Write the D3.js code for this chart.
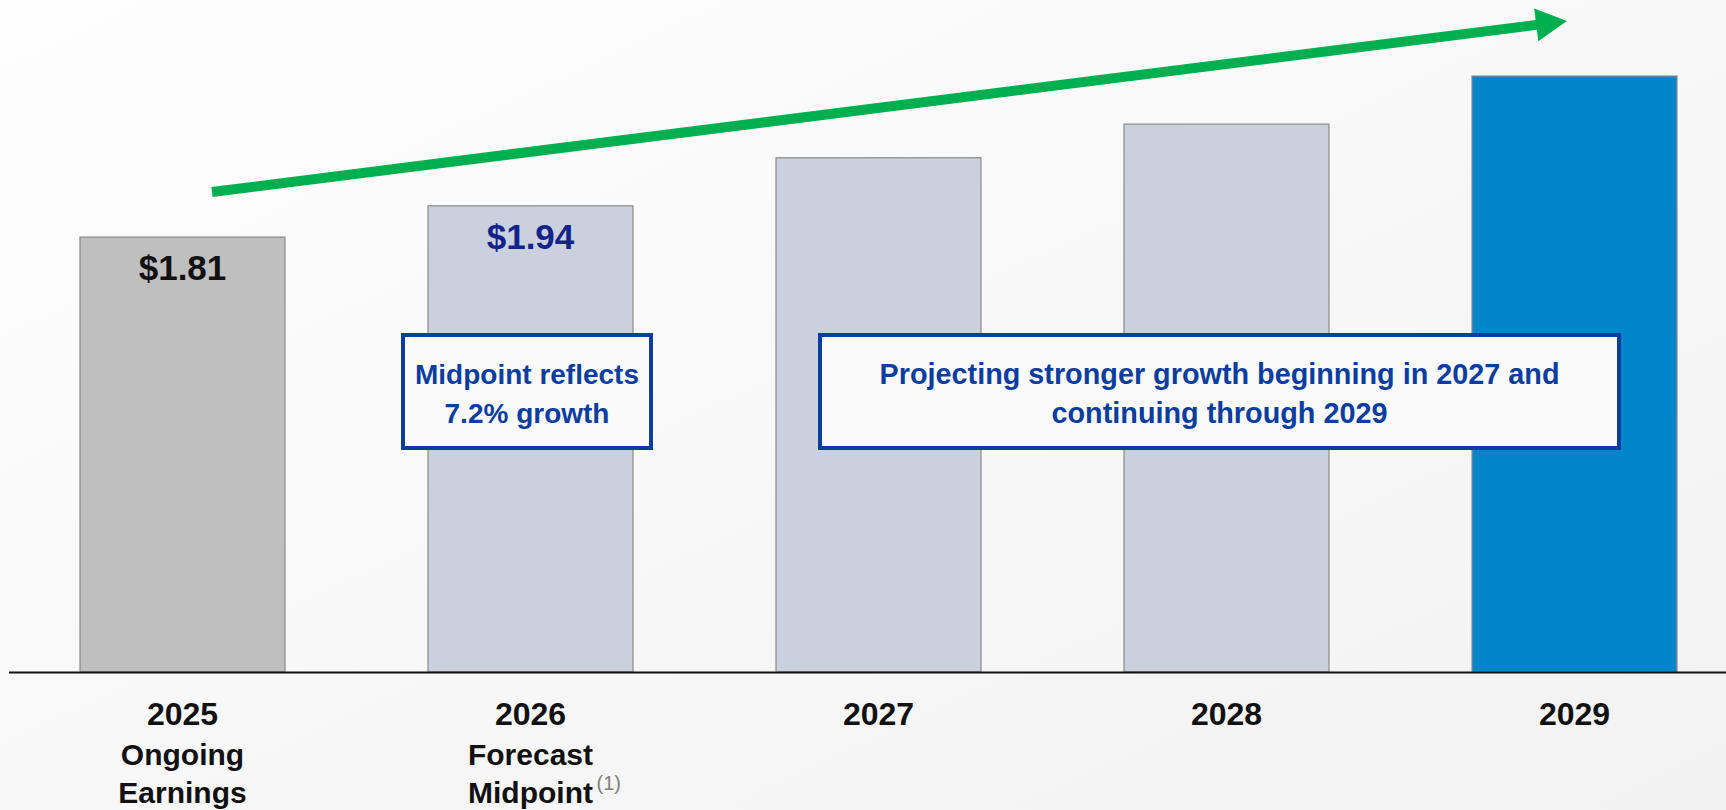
<!DOCTYPE html>
<html><head><meta charset="utf-8">
<script src="https://cdn.jsdelivr.net/npm/d3@7"></script>
<style>html,body{margin:0;padding:0;overflow:hidden;background:#fff}svg{display:block}</style>
</head><body>
<svg id="c" width="1726" height="810"></svg>
<script>
// ---- data ----
const categories = ["2025", "2026", "2027", "2028", "2029"];
const subLabels = [["Ongoing", "Earnings"], ["Forecast", "Midpoint"], [], [], []];
const footnotes = ["", "(1)", "", "", ""];
const values = [1.81, 1.94, 2.14, 2.28, 2.48];
const valueLabels = ["$1.81", "$1.94", "", "", ""];
const callout1 = ["Midpoint reflects", "7.2% growth"];
const callout2 = ["Projecting stronger growth beginning in 2027 and", "continuing through 2029"];

// ---- drawing ----
const W = 1726, H = 810;
const svg = d3.select("#c");
const FONT = "'Liberation Sans', Arial, 'DejaVu Sans', sans-serif";

const defs = svg.append("defs");
const grad = defs.append("linearGradient").attr("id", "bg")
  .attr("x1", "0").attr("y1", "0").attr("x2", "1").attr("y2", "1");
grad.append("stop").attr("offset", "0%").attr("stop-color", "#fefefe");
grad.append("stop").attr("offset", "100%").attr("stop-color", "#f2f2f2");
svg.append("rect").attr("width", W).attr("height", H).attr("fill", "url(#bg)");

const baseY = 672;
const pxPerUnit = 240.3;
const y = d3.scaleLinear().domain([0, 2.75]).range([baseY, baseY - 2.75 * pxPerUnit]);
const x = d3.scaleBand().domain(categories).range([8.5, 1748.5])
  .paddingInner(0.411).paddingOuter(0.2055);

const fills = ["#bfbfbf", "#cad1de", "#cad1de", "#cad1de", "#0085ca"];
const data = categories.map((c, i) => ({ c, v: values[i], lab: valueLabels[i], sub: subLabels[i], fn: footnotes[i], i }));

svg.append("g").selectAll("rect").data(data).join("rect")
  .attr("x", d => x(d.c)).attr("y", d => y(d.v))
  .attr("width", x.bandwidth()).attr("height", d => y(0) - y(d.v))
  .attr("fill", d => fills[d.i]).attr("stroke", "#8a8a8a").attr("stroke-width", 1.2);

// value labels
svg.append("g").selectAll("text").data(data.filter(d => d.lab)).join("text")
  .attr("x", d => x(d.c) + x.bandwidth() / 2).attr("y", d => y(d.v) + 43)
  .attr("text-anchor", "middle").attr("font-family", FONT).attr("font-weight", "bold")
  .attr("font-size", 35).attr("fill", d => d.i === 0 ? "#111111" : "#14238a")
  .text(d => d.lab);

// axis
const axisG = svg.append("g").attr("transform", `translate(0,${baseY})`)
  .call(d3.axisBottom(x).tickSize(0).tickSizeOuter(0).tickFormat(""));
axisG.select(".domain").attr("stroke", "#111").attr("stroke-width", 2);

// category labels
const lab = svg.append("g").selectAll("text").data(data).join("text")
  .attr("x", d => x(d.c) + x.bandwidth() / 2).attr("y", 725)
  .attr("text-anchor", "middle").attr("font-family", FONT).attr("font-weight", "bold")
  .attr("font-size", 30).attr("fill", "#111");
lab.append("tspan").attr("font-size", 32).text(d => d.c);
lab.each(function (d) {
  const t = d3.select(this);
  d.sub.forEach((s, k) => {
    t.append("tspan").attr("x", x(d.c) + x.bandwidth() / 2).attr("dy", k === 0 ? 40 : 38).text(s);
  });
});
// footnote superscripts
svg.append("g").selectAll("text").data(data.filter(d => d.fn)).join("text")
  .attr("x", d => x(d.c) + x.bandwidth() / 2 + 66).attr("y", 790)
  .attr("font-family", FONT).attr("font-size", 20).attr("fill", "#808080")
  .text(d => d.fn);

// growth arrow
const tip = [1567, 21], start = [212, 192];
const dx = tip[0] - start[0], dy = tip[1] - start[1], L = Math.hypot(dx, dy);
const ux = dx / L, uy = dy / L, px = -uy, py = ux;
const headLen = 31, headHalf = 16.5;
const base = [tip[0] - ux * headLen, tip[1] - uy * headLen];
svg.append("line").attr("x1", start[0]).attr("y1", start[1])
  .attr("x2", base[0] + ux * 2).attr("y2", base[1] + uy * 2)
  .attr("stroke", "#00b050").attr("stroke-width", 10);
svg.append("path").attr("fill", "#00b050")
  .attr("d", d3.line()([tip, [base[0] + px * headHalf, base[1] + py * headHalf], [base[0] - px * headHalf, base[1] - py * headHalf]]) + "Z");

// callouts
function callout(x0, y0, w, h, lines, fs) {
  const g = svg.append("g");
  g.append("rect").attr("x", x0 + 2).attr("y", y0 + 2).attr("width", w - 4).attr("height", h - 4)
    .attr("fill", "#fafafa").attr("stroke", "#0a3d9e").attr("stroke-width", 4);
  g.append("g").selectAll("text").data(lines).join("text")
    .attr("x", x0 + w / 2).attr("y", (d, k) => 384 + k * 39)
    .attr("text-anchor", "middle").attr("font-family", FONT).attr("font-weight", "bold")
    .attr("font-size", fs).attr("fill", "#0a3d9e").text(d => d);
}
callout(401, 333, 252, 117, callout1, 28);
callout(818, 333, 803, 117, callout2, 28.8);
</script>
</body></html>
